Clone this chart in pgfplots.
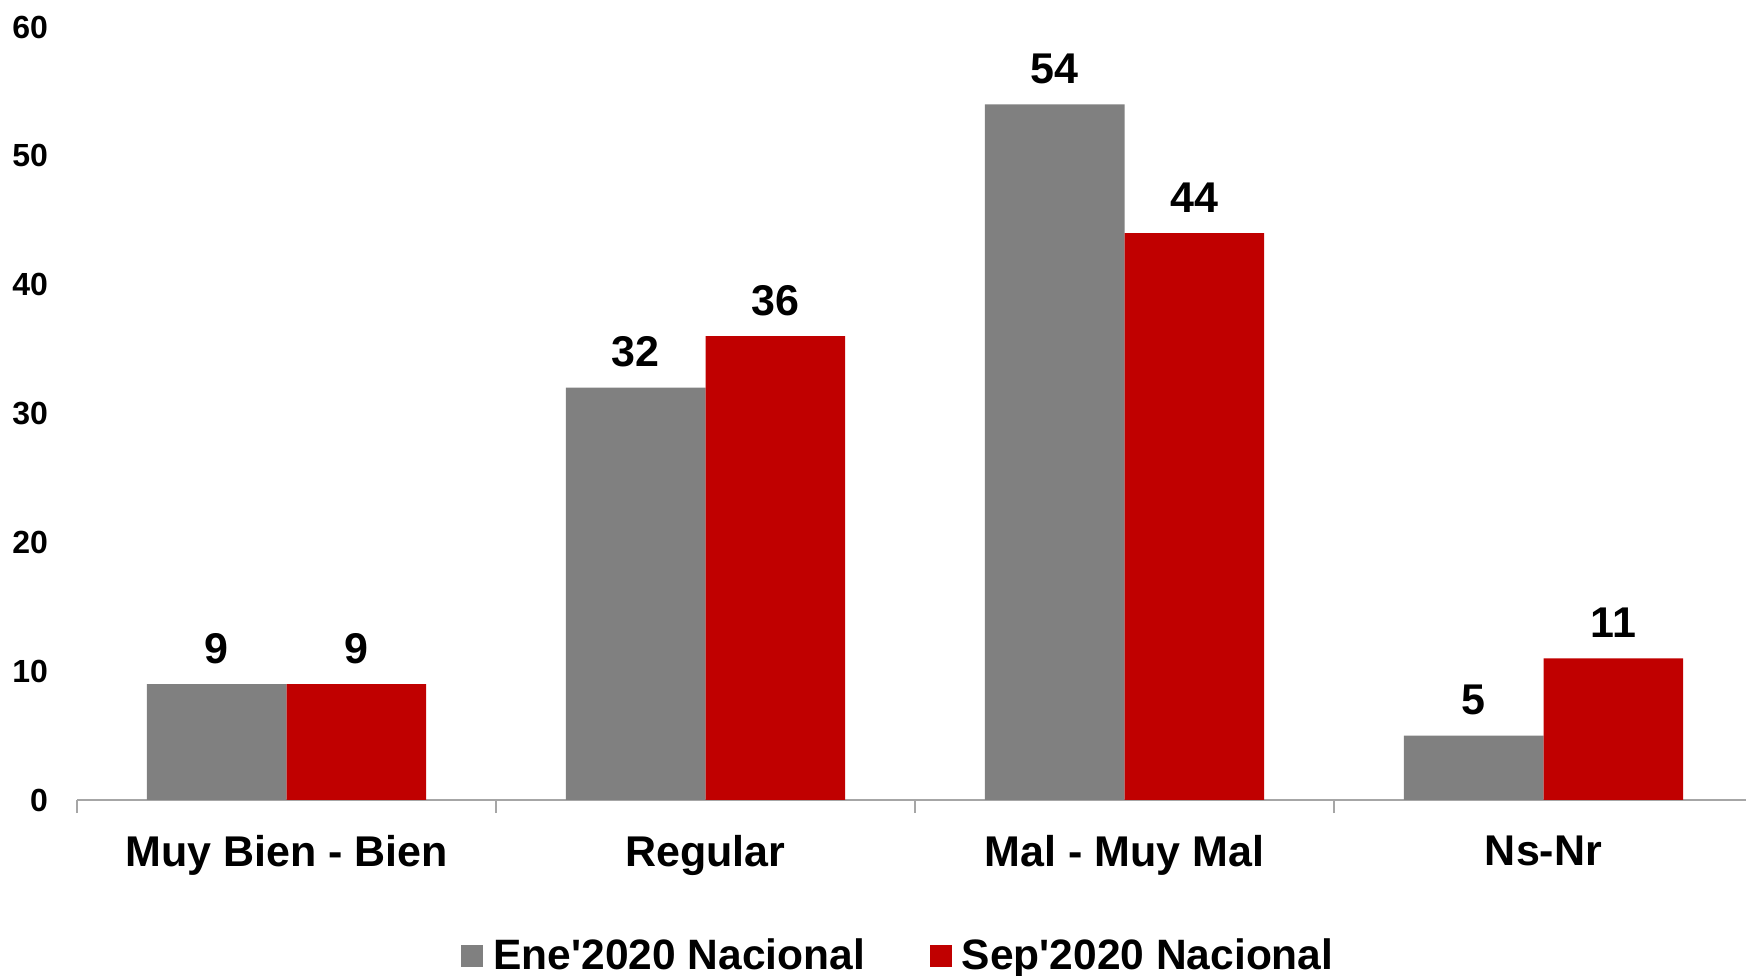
\documentclass[border=0pt]{standalone}
\usepackage{pgfplots}
\pgfplotsset{compat=1.18}
\usepackage{fontspec}
\setmainfont{Liberation Sans}
\definecolor{eneGray}{HTML}{808080}
\definecolor{sepRed}{HTML}{C00000}
\definecolor{axGray}{HTML}{A6A6A6}
\begin{document}
\begin{tikzpicture}
\begin{axis}[
    at={(0,0)}, anchor=south west,
    scale only axis,
    width=670.4pt, height=309.2pt,
    ybar=0pt,
    bar width=0.3333,
    xmin=-0.5, xmax=3.5,
    ymin=0, ymax=60,
    xtick={0,1,2,3},
    xticklabels={Muy Bien - Bien, Regular, Mal - Muy Mal, Ns-Nr},
    ytick={0,10,20,30,40,50,60},
    major tick length=0pt,
    extra x ticks={-0.5,0.5,1.5,2.5},
    extra x tick labels={},
    extra x tick style={major tick length=5.2pt, tick align=outside,
        tick style={draw=axGray, line width=0.6pt}},
    axis lines*=left,
    x axis line style={draw=axGray, line width=0.6pt},
    y axis line style={draw=none},
    /pgf/number format/assume math mode=true,
    x tick label style={font=\fontsize{17.2}{20}\selectfont\bfseries, anchor=north, inner sep=0pt, yshift=-14pt},
    y tick label style={font=\fontsize{12.8}{15}\selectfont\bfseries, anchor=east, inner sep=0pt, xshift=-11.4pt},
    nodes near coords,
    every node near coord/.append style={font=\fontsize{17.2}{20}\selectfont\bfseries, anchor=south, inner sep=0pt, yshift=8pt},
    legend columns=2,
    legend style={at={(0.491,0)}, anchor=center, yshift=-62.4pt, draw=none,
        font=\fontsize{17}{20}\selectfont\bfseries,
        /tikz/every odd column/.append style={column sep=2pt},
        /tikz/every even column/.append style={column sep=24pt}},
    legend image code/.code={\fill[#1] (0pt,-4.4pt) rectangle (8.8pt,4.4pt);},
    clip=false,
]
\addplot[fill=eneGray, draw=none] coordinates {(0,9) (1,32) (2,54) (3,5)};
\addplot[fill=sepRed, draw=none] coordinates {(0,9) (1,36) (2,44) (3,11)};
\legend{Ene\textquotesingle 2020 Nacional, Sep\textquotesingle 2020 Nacional}
\end{axis}
\pgfresetboundingbox
\path (-30.8pt,-70.4pt) rectangle (667.6pt,320pt);
\end{tikzpicture}
\end{document}
